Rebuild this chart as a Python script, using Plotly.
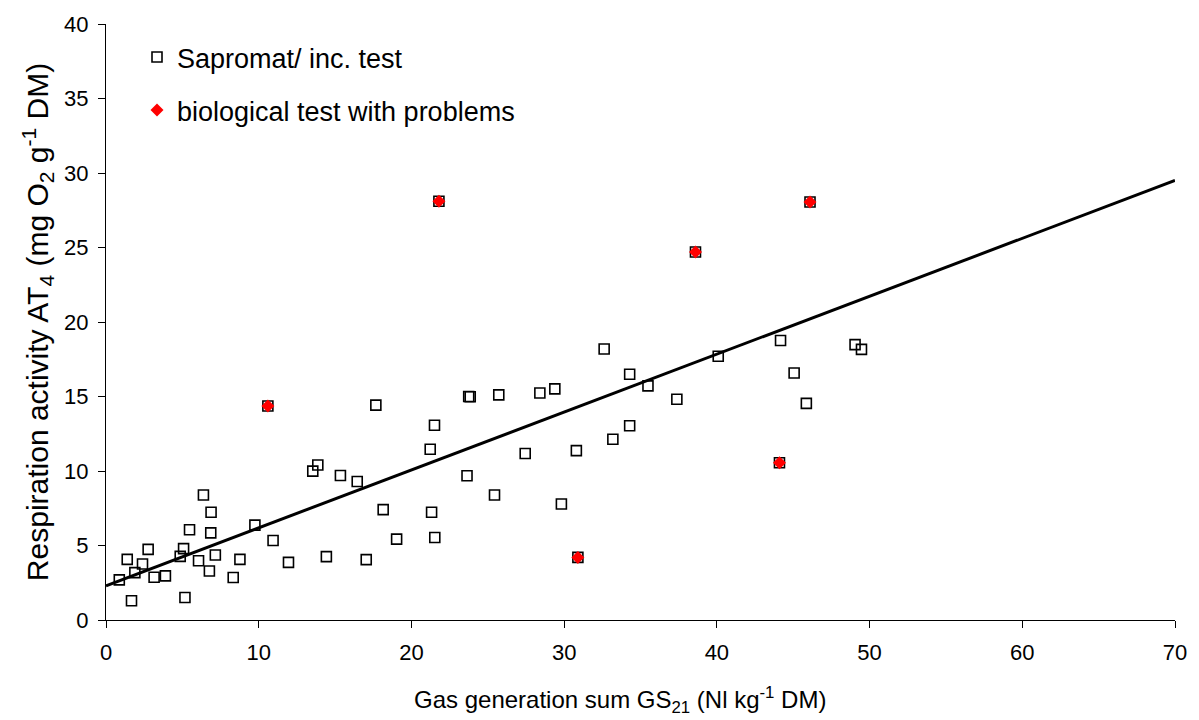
import plotly.graph_objects as go

# Sapromat / incubation test (all samples, incl. those with problems)
sap_x = [0.87, 1.39, 1.67, 1.89, 2.39, 2.76, 3.15, 3.89, 4.86, 5.08, 5.17, 5.47, 6.06, 6.38,
         6.77, 6.86, 6.88, 7.16, 8.33, 8.77, 9.75, 10.94, 11.95, 13.54, 13.87, 14.43, 15.35,
         16.45, 17.04, 17.67, 18.15, 19.03, 21.23, 21.32, 21.51, 21.53, 23.64, 23.75, 23.85,
         25.44, 25.72, 27.45, 28.41, 29.39, 29.82, 30.80, 32.62, 33.19, 34.29, 34.29, 35.49,
         37.38, 40.09, 44.17, 45.06, 45.86, 49.05, 49.47,
         10.6, 21.8, 30.9, 38.6, 44.1, 46.1]
sap_y = [2.69, 4.07, 1.29, 3.18, 3.76, 4.74, 2.87, 2.96, 4.27, 4.79, 1.51, 6.06, 3.98, 8.39,
         3.29, 5.85, 7.23, 4.36, 2.85, 4.07, 6.37, 5.34, 3.87, 9.99, 10.40, 4.25, 9.70,
         9.30, 4.05, 14.42, 7.41, 5.43, 11.46, 7.23, 13.07, 5.54, 9.68, 15.0, 14.98,
         8.39, 15.11, 11.17, 15.23, 15.51, 7.79, 11.37, 18.19, 12.13, 16.49, 13.04, 15.71,
         14.82, 17.70, 18.76, 16.58, 14.54, 18.48, 18.16,
         14.36, 28.1, 4.2, 24.7, 10.55, 28.05]

# Biological tests with problems
prob_x = [10.6, 21.8, 30.9, 38.6, 44.1, 46.1]
prob_y = [14.36, 28.1, 4.2, 24.7, 10.55, 28.05]

# Regression line end points
trend_x = [0, 70]
trend_y = [2.3, 29.5]

x_ticks = [0, 10, 20, 30, 40, 50, 60, 70]
y_ticks = [0, 5, 10, 15, 20, 25, 30, 35, 40]

x_title = "Gas generation sum GS<sub>21</sub> (Nl kg<sup>-1</sup> DM)"
y_title = "Respiration activity AT<sub>4</sub> (mg O<sub>2</sub> g<sup>-1</sup> DM)"

FONT = "Liberation Sans, Arial, sans-serif"

fig = go.Figure()
fig.add_trace(go.Scatter(
    x=sap_x, y=sap_y, mode="markers", name="Sapromat/ inc. test",
    legendgroup="a",
    marker=dict(symbol="square-open", size=10, color="black", line=dict(width=1.6, color="black")),
))
fig.add_trace(go.Scatter(
    x=trend_x, y=trend_y, mode="lines", showlegend=False,
    line=dict(color="black", width=3),
))
fig.add_trace(go.Scatter(
    x=prob_x, y=prob_y, mode="markers", name="biological test with problems",
    legendgroup="b",
    marker=dict(symbol="diamond", size=10, color="#ff0000", line=dict(width=0)),
))

fig.update_layout(
    width=1199, height=720,
    margin=dict(l=106, r=18, t=21, b=100),
    paper_bgcolor="white", plot_bgcolor="white",
    font=dict(family=FONT, size=22, color="black"),
    showlegend=True,
    legend=dict(x=0.029, y=0.985, xanchor="left", yanchor="top",
                bgcolor="rgba(0,0,0,0)", font=dict(family=FONT, size=27),
                traceorder="grouped", tracegroupgap=15),
    annotations=[dict(
        text=x_title, xref="paper", yref="paper", x=0.481, y=-0.135,
        xanchor="center", yanchor="middle", showarrow=False,
        font=dict(family=FONT, size=24, color="black"),
    )],
)
fig.update_xaxes(
    range=[0, 70], tickvals=x_ticks, ticktext=[str(v) for v in x_ticks],
    showgrid=False, zeroline=False, showline=True, linecolor="black", linewidth=1,
    ticks="outside", ticklen=7, tickcolor="black", tickwidth=1,
    tickfont=dict(family=FONT, size=22), ticklabelstandoff=6,
)
fig.update_yaxes(
    range=[0, 40], tickvals=y_ticks, ticktext=[str(v) for v in y_ticks],
    showgrid=False, zeroline=False, showline=True, linecolor="black", linewidth=1,
    ticks="outside", ticklen=7, tickcolor="black", tickwidth=1,
    tickfont=dict(family=FONT, size=22), ticklabelstandoff=5,
    title=dict(text=y_title, font=dict(family=FONT, size=30), standoff=6),
)

fig.write_html("out.html")
